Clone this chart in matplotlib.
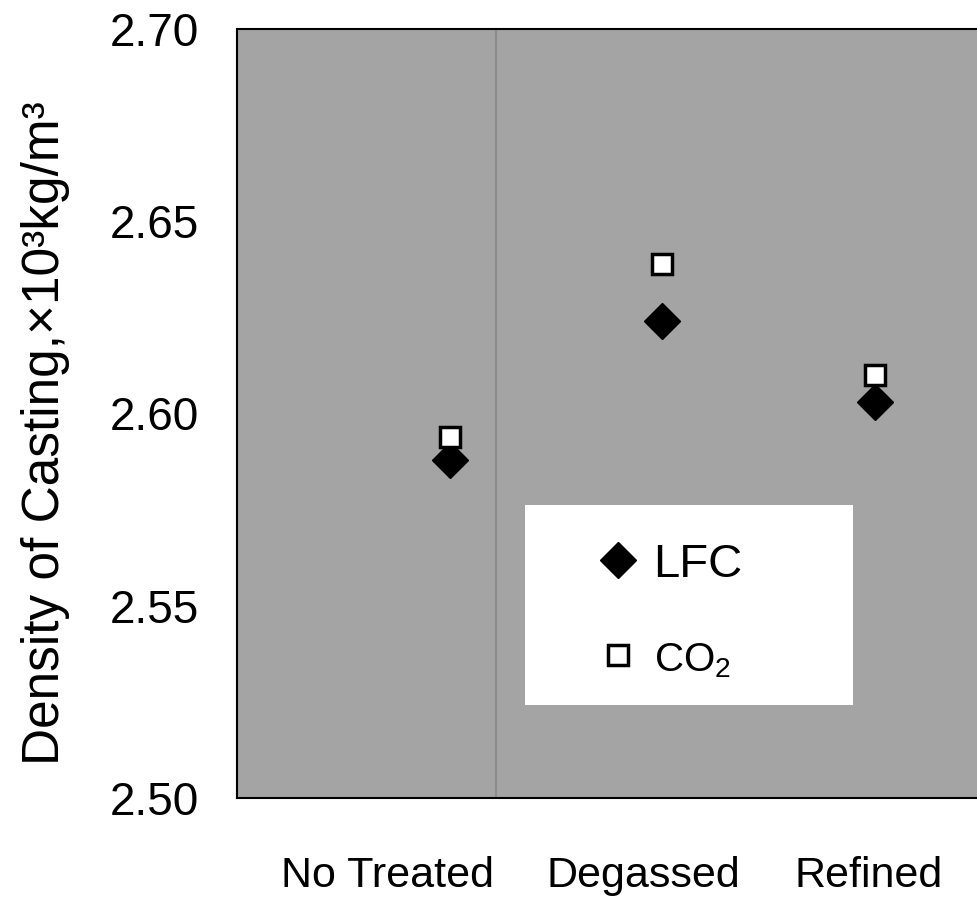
import matplotlib
matplotlib.use("Agg")
import matplotlib.pyplot as plt
from matplotlib.patches import Rectangle

plt.rcParams['font.family'] = ['Liberation Sans', 'DejaVu Sans']
plt.rcParams['mathtext.fontset'] = 'custom'
plt.rcParams['mathtext.rm'] = 'Liberation Sans'
plt.rcParams['mathtext.it'] = 'Liberation Sans'

categories = ["No Treated", "Degassed", "Refined"]
x_points = [1, 2, 3]
lfc = [2.588, 2.624, 2.603]
co2 = [2.594, 2.639, 2.610]
y_ticks = [2.50, 2.55, 2.60, 2.65, 2.70]

# category labels are not centred under the points in the original
label_pos = [0.71, 1.91, 2.97]

fig = plt.figure(figsize=(9.77, 9.09), dpi=100)
ax = fig.add_axes([237 / 977, 1 - 798 / 909, 744 / 977, 769 / 909])
ax.set_facecolor('#a4a4a4')

ax.axvline(1.22, color='#8c8c8c', lw=1.5, zorder=1)

ax.plot(x_points, lfc, linestyle='none', marker='D', markersize=18,
        color='black', zorder=3, label='LFC')
ax.plot(x_points, co2, linestyle='none', marker='s', markersize=14,
        markerfacecolor='white', markeredgecolor='black', markeredgewidth=2.5,
        zorder=4, label='CO$_2$')

ax.set_xlim(0, 3.5)
ax.set_ylim(2.50, 2.70)
ax.set_yticks(y_ticks)
ax.set_yticklabels([f"{v:.2f}" for v in y_ticks], fontsize=33)
ax.set_xticks(label_pos)
ax.set_xticklabels(categories, fontsize=31)
ax.tick_params(axis='y', length=0, pad=27)
ax.tick_params(axis='x', length=0, pad=42)

for s in ax.spines.values():
    s.set_color('black')
    s.set_linewidth(1.5)

ax.set_ylabel("Density of Casting,×10³kg/m³", fontsize=37)
ax.yaxis.set_label_coords(-0.2245, 0.475)

# white legend box
ax.add_patch(Rectangle((0.387, 0.121), 0.441, 0.260, transform=ax.transAxes,
                       facecolor='white', edgecolor='none', zorder=5))
leg = ax.legend(loc='upper left', bbox_to_anchor=(0.4805, 0.3316),
                frameon=False, fontsize=34, handlelength=1.0,
                handletextpad=0.25, labelspacing=1.09, borderpad=0,
                borderaxespad=0)
leg.set_zorder(6)
leg.get_texts()[1].set_fontsize(29)

fig.savefig("out.png", dpi=100)
